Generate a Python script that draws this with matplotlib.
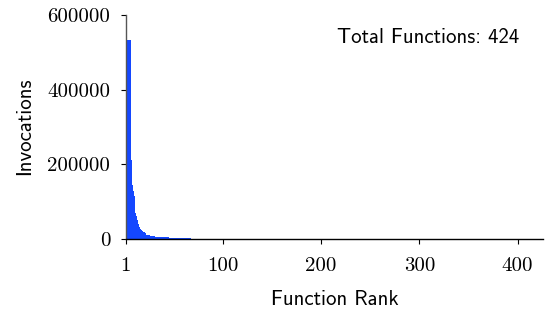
import numpy as np
import matplotlib
matplotlib.use("Agg")
import matplotlib.pyplot as plt

# invocations per function, sorted by rank
head = [535000, 534500, 534000, 533500, 533000,
        211000, 145000, 129000, 115000, 76000,
        69000, 62000, 51000, 40000, 33000,
        27600, 24000, 22300, 19800, 19400,
        15200, 11000, 10800, 10600, 10400,
        8200, 8100, 8000, 7900, 7800]
mid = [5600, 5600, 5500, 5500, 5500, 5400, 5400, 5400, 5300, 5300, 5300, 5200, 5200, 5100,
       2900, 2900, 2900, 2800, 2800, 2800, 2800, 2700, 2700, 2700, 2700,
       2600, 2600, 2600, 2600, 2500, 2500, 2500, 2500, 2400, 2400, 2400]
tail = [900] * 40 + [500] * 60 + [200] * 80 + [80] * 90 + [20] * 88
invocations = head + mid + tail
total_functions = len(invocations)
ranks = np.arange(1, total_functions + 1)

x_ticks = [1, 100, 200, 300, 400]
y_ticks = [0, 200000, 400000, 600000]

fig = plt.figure(figsize=(5.45, 3.14), dpi=100)
ax = fig.add_axes([0.2306, 0.239, 0.766, 0.713])

ax.bar(ranks, invocations, width=1.0, align='edge', color='#1447FF', linewidth=0)

ax.set_xlim(1, 426)
ax.set_ylim(0, 600000)
ax.set_xticks(x_ticks)
ax.set_yticks(y_ticks)
ax.set_xticklabels([str(t) for t in x_ticks], fontfamily='cmr10', fontsize=15)
ax.set_yticklabels([str(t) for t in y_ticks], fontfamily='cmr10', fontsize=15)
ax.tick_params(direction='out', length=3.6, width=0.8)
ax.tick_params(axis='x', pad=9.5)
ax.tick_params(axis='y', pad=7.5)

for s in ['top', 'right']:
    ax.spines[s].set_visible(False)
ax.spines['left'].set_color('#555555')
ax.spines['left'].set_linewidth(1.0)
ax.spines['bottom'].set_linewidth(1.0)

ax.set_xlabel('Function Rank', fontfamily='cmss10', fontsize=15)
ax.xaxis.label.set_va('baseline')
ax.xaxis.set_label_coords(0.501, -0.295)
ax.set_ylabel('Invocations', fontfamily='cmss10', fontsize=15)
ax.yaxis.label.set_va('baseline')
ax.yaxis.set_label_coords(-0.228, 0.502)
ax.text(0.943, 0.876, 'Total Functions: %d' % total_functions, transform=ax.transAxes,
        ha='right', va='baseline', fontfamily='cmss10', fontsize=15)

fig.savefig('out.png', dpi=100)
